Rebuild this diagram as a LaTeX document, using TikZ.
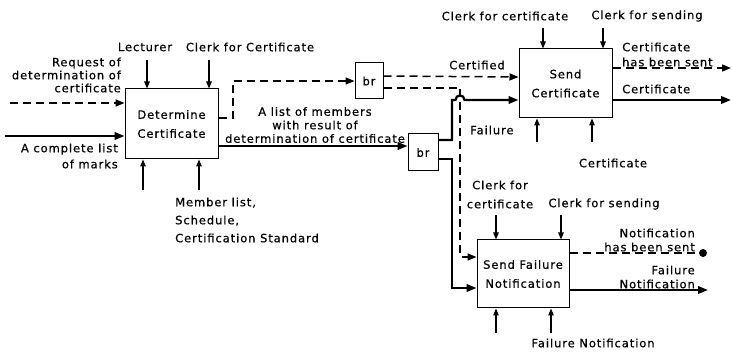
\documentclass[tikz,border=0pt]{standalone}
\usepackage{fontspec}
\setmainfont{DejaVu Sans}[LetterSpace=8,FakeBold=0.6]
\usetikzlibrary{arrows.meta,calc}
\begin{document}
\begin{tikzpicture}[x=1pt,y=-1pt,
 font=\fontsize{11.5}{13.5}\selectfont,
 proc/.style={draw, line width=1pt, fill=white, align=center, inner sep=0pt, font=\fontsize{11.5}{19}\selectfont},
 brbox/.style={draw, line width=1pt, fill=white, inner sep=0pt},
 flow/.style={line width=2.2pt, -{Triangle[length=10pt,width=7.5pt]}},
 dflow/.style={line width=1.5pt, dash pattern=on 8pt off 5pt, -{Triangle[length=9pt,width=7pt]}},
 dline/.style={line width=1.5pt, dash pattern=on 8pt off 5pt},
 ctl/.style={line width=1.3pt, -{Triangle[length=7pt,width=5.5pt]}},
 lbl/.style={inner sep=0pt, align=center}
]
\useasboundingbox (0,0) rectangle (732,355);

% boxes
\node[proc, minimum width=93pt, minimum height=70pt] (det) at (171.5,124) {Determine\\Certificate};
\node[proc, minimum width=93pt, minimum height=69pt] (sc) at (565.5,83.5) {Send\\Certificate};
\node[proc, minimum width=92pt, minimum height=68pt] (sfn) at (523,274) {Send Failure\\Notification};
\node[brbox, minimum width=28pt, minimum height=36pt] (br1) at (369,81) {br};
\node[brbox, minimum width=30pt, minimum height=37pt] (br2) at (423,152.5) {br};

% labels
\node[lbl, align=right, anchor=east, font=\fontsize{11.5}{13}\selectfont] (lreq) at (121,75) {Request of\\determination of\\certificate};
\node[lbl, align=right, anchor=east, font=\fontsize{11.5}{16}\selectfont] (lmarks) at (118,156) {A complete list\\of marks};
\node[lbl] (llect) at (145,47) {Lecturer};
\node[lbl] (lclerk1) at (250,47) {Clerk for Certificate};
\node[lbl, align=left, anchor=west, font=\fontsize{11.5}{18}\selectfont] (lmem) at (175,220) {Member list,\\Schedule,\\Certification Standard};
\node[lbl] (llist) at (315,125) {A list of members\\with result of\\determination of certificate};
\node[lbl] (lcertified) at (477,65) {Certified};
\node[lbl, anchor=west] (lfail) at (470,130) {Failure};
\node[lbl] (lclerk2) at (505,16) {Clerk for certificate};
\node[lbl] (lsend1) at (647,16) {Clerk for sending};
\node[lbl, align=left, anchor=west, font=\fontsize{11.5}{15}\selectfont] (lsent) at (622,54.5) {Certificate\\has been sent};
\node[lbl, anchor=west] (lcertout) at (622,89) {Certificate};
\node[lbl] (lcertmech) at (613,163) {Certificate};
\node[lbl, font=\fontsize{11.5}{19}\selectfont] (lclerk3) at (500,194.5) {Clerk for\\certificate};
\node[lbl] (lsend2) at (604,204) {Clerk for sending};
\node[lbl, align=right, anchor=east, font=\fontsize{11.5}{14}\selectfont] (lnotsent) at (695,240) {Notification\\has been sent};
\node[lbl, align=right, anchor=east, font=\fontsize{11.5}{14}\selectfont] (lfailout) at (695,277) {Failure\\Notification};
\node[lbl] (lfailmech) at (593,343) {Failure Notification};

% free ends
\coordinate (reqin) at (10,103);
\coordinate (marksin) at (5,136);
\coordinate (c1) at (147,60);
\coordinate (c2) at (209,60);
\coordinate (m1) at (143,190);
\coordinate (m2) at (199,190);
\coordinate (c3) at (543,28);
\coordinate (c4) at (603,28);
\coordinate (m3) at (537,142);
\coordinate (m4) at (592,142);
\coordinate (c5) at (496,215);
\coordinate (c6) at (561,215);
\coordinate (m5) at (496,333);
\coordinate (m6) at (551,333);
\coordinate (out1) at (731,68);
\coordinate (out2) at (731,100);
\coordinate (out3) at (700,253);
\coordinate (out4) at (708,290);

% inputs to det
\draw[dflow] (reqin) -- (det.west |- reqin);
\draw[flow] (marksin) -- (det.west |- marksin);
\draw[ctl] (c1) -- (c1 |- det.north);
\draw[ctl] (c2) -- (c2 |- det.north);
\draw[ctl] (m1) -- (m1 |- det.south);
\draw[ctl] (m2) -- (m2 |- det.south);

% det outputs
\draw[dflow] (det.east |- 0,118) -- (233,118) -- (233,81) -- (br1.west);
\draw[flow] (det.east |- 0,146) -- (br2.west |- 0,146);

% br1 outputs
\draw[dflow] (br1.east |- 0,76) -- (sc.west |- 0,77);
\draw[dflow] (br1.east |- 0,88) -- (460,88) -- (460,257) -- (sfn.west |- 0,257);

% br2 outputs
\draw[flow] (br2.east |- 0,140) -- (452,140) -- (452,100) -- (455.5,100)
  .. controls (455.5,94) and (464.5,94) .. (464.5,100) -- (sc.west |- 0,100);
\draw[flow] (br2.east |- 0,159) -- (452,159) -- (452,288) -- (sfn.west |- 0,288);

% send certificate
\draw[ctl] (c3) -- (c3 |- sc.north);
\draw[ctl] (c4) -- (c4 |- sc.north);
\draw[ctl] (m3) -- (m3 |- sc.south);
\draw[ctl] (m4) -- (m4 |- sc.south);
\draw[dflow] (sc.east |- out1) -- (out1);
\draw[flow] (sc.east |- out2) -- (out2);

% send failure notification
\draw[ctl] (c5) -- (c5 |- sfn.north);
\draw[ctl] (c6) -- (c6 |- sfn.north);
\draw[ctl] (m5) -- (m5 |- sfn.south);
\draw[ctl] (m6) -- (m6 |- sfn.south);
\draw[dline] (sfn.east |- out3) -- (out3);
\fill (out3) ++(3,0) circle (4pt);
\draw[flow] (sfn.east |- out4) -- (out4);
\end{tikzpicture}
\end{document}
